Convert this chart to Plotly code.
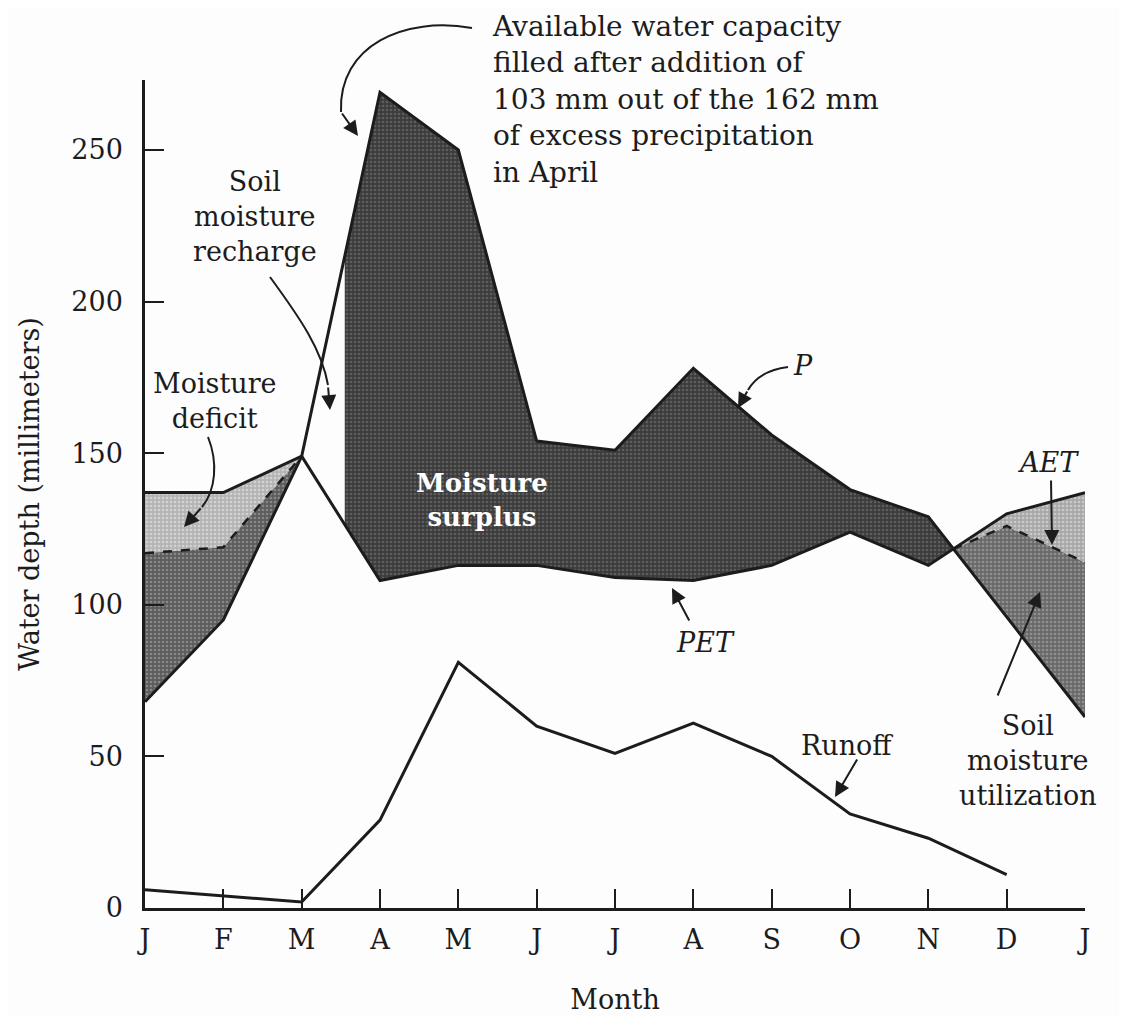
import numpy as np
import plotly.graph_objects as go

# ---------------- data ----------------
month_labels = ["J", "F", "M", "A", "M", "J", "J", "A", "S", "O", "N", "D", "J"]
month_pos = list(range(13))

# Precipitation P (mm)
P = [68, 95, 149, 269, 250, 154, 151, 178, 156, 138, 129, 96, 63]
# Potential evapotranspiration PET (mm)
PET = [137, 137, 149, 108, 113, 113, 109, 108, 113, 124, 113, 130, 137]
# Actual evapotranspiration AET where it departs from PET
AET_left_x = [0, 1, 2]
AET_left = [117, 119, 149]
AET_right_x = [11, 12]
AET_right = [126, 114]
# Runoff (mm)
runoff_x = list(range(12))
runoff = [6, 4, 2, 29, 81, 60, 51, 61, 50, 31, 23, 11]
# Month position where soil moisture recharge is complete
recharge_end = 2.55

y_ticks = [0, 50, 100, 150, 200, 250]

# ---------------- derived geometry ----------------
P_arr = np.array(P, float)
PET_arr = np.array(PET, float)
xm = np.array(month_pos, float)

# crossing of P and PET in Nov-Dec
d10 = P_arr[10] - PET_arr[10]
d11 = P_arr[11] - PET_arr[11]
x_c = 10 + d10 / (d10 - d11)
y_c = float(np.interp(x_c, xm, P_arr))

ink = "#1c1c1c"
FONT = "DejaVu Serif"

fig = go.Figure()

def poly(xs, ys, bg, fg, name):
    fig.add_trace(go.Scatter(
        x=xs, y=ys, mode="lines", fill="toself", line=dict(width=0),
        fillcolor=bg,
        fillpattern=dict(shape=".", bgcolor=bg, fgcolor=fg, size=4,
                         solidity=0.35, fillmode="replace"),
        hoverinfo="skip", showlegend=False, name=name))

# left: moisture deficit (PET above AET)
poly(AET_left_x + AET_left_x[::-1],
     PET[0:3] + AET_left[::-1], "#b4b4b4", "#d2d2d2", "deficit_left")
# left: soil moisture utilization (AET above P)
poly(AET_left_x + AET_left_x[::-1],
     AET_left + P[0:3][::-1], "#5c5c5c", "#888888", "util_left")

# surplus (P above PET) from recharge_end to crossing
xs_top = [recharge_end] + list(range(3, 11)) + [x_c]
ys_top = [float(np.interp(recharge_end, xm, P_arr))] + P[3:11] + [y_c]
xs_bot = [x_c] + list(range(10, 2, -1)) + [recharge_end]
ys_bot = [y_c] + PET[3:11][::-1] + [float(np.interp(recharge_end, xm, PET_arr))]
poly(xs_top + xs_bot, ys_top + ys_bot, "#3c3c3c", "#5e5e5e", "surplus")

# right: utilization and deficit
rx = [x_c] + AET_right_x
r_aet = [y_c] + AET_right
r_p = [y_c] + P[11:13]
r_pet = [y_c] + PET[11:13]
poly(rx + rx[::-1], r_aet + r_p[::-1], "#6a6a6a", "#909090", "util_right")
poly(rx + rx[::-1], r_pet + r_aet[::-1], "#a8a8a8", "#cacaca", "deficit_right")

# lines
fig.add_trace(go.Scatter(x=month_pos, y=P, mode="lines",
                         line=dict(color=ink, width=3), hoverinfo="skip", showlegend=False))
fig.add_trace(go.Scatter(x=month_pos, y=PET, mode="lines",
                         line=dict(color=ink, width=3), hoverinfo="skip", showlegend=False))
fig.add_trace(go.Scatter(x=AET_left_x, y=AET_left, mode="lines",
                         line=dict(color=ink, width=2.5, dash="dash"), hoverinfo="skip", showlegend=False))
fig.add_trace(go.Scatter(x=rx, y=r_aet, mode="lines",
                         line=dict(color=ink, width=2.5, dash="dash"), hoverinfo="skip", showlegend=False))
fig.add_trace(go.Scatter(x=runoff_x, y=runoff, mode="lines",
                         line=dict(color=ink, width=3), hoverinfo="skip", showlegend=False))

# ---------------- layout geometry (page body has an 8 px offset) ----------------
OFF = 8
FIG_W, FIG_H = 1127 - OFF, 1017 - OFF
L, T, W, H = 145 - OFF, 80 - OFF, 940, 828

def PX(px):
    return (px - OFF - L) / W
def PY(py):
    return (T + H - (py - OFF)) / H

annotations = []
shapes = []

def text(px, py, s, xanchor="center", yanchor="middle", align="center",
         size=27, color=ink, family=FONT):
    annotations.append(dict(x=PX(px), y=PY(py), xref="paper", yref="paper",
                            text=s, showarrow=False, xanchor=xanchor, yanchor=yanchor,
                            align=align, font=dict(family=family, size=size, color=color)))

def head(tipx, tipy, dx, dy):
    annotations.append(dict(x=PX(tipx), y=PY(tipy), xref="paper", yref="paper",
                            ax=dx, ay=dy, text="", showarrow=True, arrowhead=2,
                            arrowsize=1.5, arrowwidth=2, arrowcolor=ink))

def curve(pts):
    (x0, y0), (x1, y1), (x2, y2), (x3, y3) = pts
    path = (f"M {PX(x0)},{PY(y0)} C {PX(x1)},{PY(y1)} {PX(x2)},{PY(y2)} "
            f"{PX(x3)},{PY(y3)}")
    shapes.append(dict(type="path", xref="paper", yref="paper", path=path,
                       line=dict(color=ink, width=2)))

text(490, 8, "Available water capacity<br>filled after addition of<br>"
     "103 mm out of the 162 mm<br>of excess precipitation<br>in April",
     xanchor="left", yanchor="top", align="left", size=28)
curve([(472, 28), (405, 16), (338, 45), (341, 112)])
head(358, 136, -17, -24)

text(255, 217, "Soil<br>moisture<br>recharge")
curve([(270, 277), (300, 318), (322, 350), (328, 385)])
head(330, 410, -2, -24)

text(215, 401, "Moisture<br>deficit")
curve([(208, 437), (218, 462), (216, 490), (202, 507)])
head(184, 527, 18, -20)

text(482, 500, "<b>Moisture<br>surplus</b>", color="#ffffff", size=26)

text(803, 365, "<i>P</i>")
curve([(788, 367), (772, 369), (756, 376), (748, 390)])
head(738, 408, 10, -18)

text(705, 642, "<i>PET</i>")
head(672, 588, 18, 34)

text(1048, 463, "<i>AET</i>")
head(1052, 545, -1, -66)

text(1028, 760, "Soil<br>moisture<br>utilization")
head(1040, 592, -43, 105)

text(847, 745, "Runoff")
head(835, 797, 23, -39)

fig.update_layout(
    width=FIG_W, height=FIG_H,
    margin=dict(l=L, r=FIG_W - L - W, t=T, b=FIG_H - T - H, autoexpand=False),
    paper_bgcolor="#fdfdfd", plot_bgcolor="#fdfdfd",
    font=dict(family=FONT, size=27, color=ink),
    annotations=annotations, shapes=shapes,
    showlegend=False,
)
fig.update_xaxes(
    range=[0, 12], tickmode="array", tickvals=month_pos, ticktext=month_labels,
    ticks="inside", ticklen=19, tickwidth=2, tickcolor=ink, automargin=False,
    showline=True, linecolor=ink, linewidth=2.5, showgrid=False, zeroline=False,
    tickfont=dict(family=FONT, size=27, color=ink), ticklabelstandoff=6,
    title=dict(text="Month", font=dict(family=FONT, size=27, color=ink), standoff=36),
)
fig.update_yaxes(
    range=[0, H / 3.032], tickmode="array", tickvals=y_ticks,
    ticks="inside", ticklen=19, tickwidth=2, tickcolor=ink, automargin=False,
    showline=True, linecolor=ink, linewidth=2.5, showgrid=False, zeroline=False,
    tickfont=dict(family=FONT, size=27, color=ink), ticklabelstandoff=14,
    title=dict(text="Water depth (millimeters)", font=dict(family=FONT, size=27, color=ink),
               standoff=24),
)

fig.write_html("out.html")
